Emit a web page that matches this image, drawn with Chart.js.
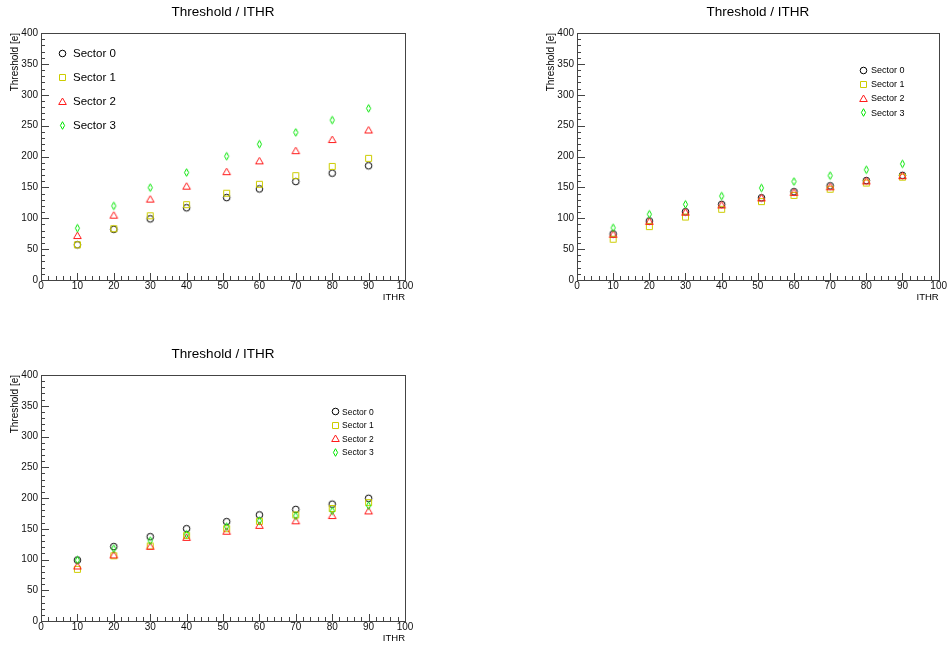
<!DOCTYPE html>
<html><head><meta charset="utf-8">
<script src="https://cdn.jsdelivr.net/npm/chart.js@4.4.0/dist/chart.umd.min.js"></script>
<style>
html,body{margin:0;padding:0;background:#fff;width:947px;height:645px;overflow:hidden}
canvas{position:absolute;display:block}
</style></head><body>
<canvas id="c1" width="473" height="322" style="left:0;top:0"></canvas>
<canvas id="c2" width="474" height="322" style="left:473px;top:0"></canvas>
<canvas id="c3" width="473" height="323" style="left:0;top:322px"></canvas>
<script>
// ---- data ----
const ITHR = [10, 20, 30, 40, 51, 60, 70, 80, 90];
const SECTORS = ['Sector 0', 'Sector 1', 'Sector 2', 'Sector 3'];
const X_TICKS = [0, 10, 20, 30, 40, 50, 60, 70, 80, 90, 100];
const Y_TICKS = [0, 50, 100, 150, 200, 250, 300, 350, 400];
const TITLE = 'Threshold / ITHR';
const X_TITLE = 'ITHR';
const Y_TITLE = 'Threshold [e]';

// panel 1 (top left)
const A_S0 = [57, 82, 99, 117, 133.5, 147.5, 159.5, 173, 185];
const A_S1 = [57, 83, 104, 122, 140.5, 155, 169, 184, 197];
const A_S2 = [72, 105, 131, 152, 175.5, 193, 209.5, 227.5, 243];
const A_S3 = [84, 120, 149.5, 174, 200.5, 220, 239, 259, 278];
// panel 2 (top right)
const B_S0 = [74.5, 95.5, 110.5, 122.5, 133, 143, 152.5, 161, 169.5];
const B_S1 = [66, 86.5, 102, 114.5, 127, 137, 147, 157, 166.5];
const B_S2 = [74, 95, 110, 121.5, 133, 142, 151, 160.5, 169];
const B_S3 = [84.5, 106.5, 122.5, 136, 149, 159.5, 169, 178.5, 188];
// panel 3 (bottom left)
const C_S0 = [99, 121, 137, 150, 161.5, 172.5, 181.5, 190, 199.5];
const C_S1 = [84, 106, 122, 139, 150, 162, 172.5, 183, 192.5];
const C_S2 = [89.5, 107.5, 121.5, 136, 146, 155.5, 163, 171.5, 179];
const C_S3 = [99, 117.5, 130.5, 141, 153.5, 163, 171, 179, 187.5];

// ---- styles ----
const FONT = '"Liberation Sans", Arial, Helvetica, sans-serif';
const COLORS = ['#000000', '#cccc00', '#ff1a1a', '#00e600'];

function marker(kind, color) {
  const c = document.createElement('canvas');
  c.width = 11; c.height = 11;
  const g = c.getContext('2d');
  g.strokeStyle = color; g.lineWidth = 1;
  g.beginPath();
  if (kind === 0) { g.arc(5.5, 5.5, 3.3, 0, Math.PI * 2); }
  else if (kind === 1) { g.rect(2.5, 2.5, 6, 6); }
  else if (kind === 2) { g.moveTo(5.5, 2.0); g.lineTo(9.3, 8.5); g.lineTo(1.7, 8.5); g.closePath(); }
  else { g.moveTo(5.5, 1.7); g.lineTo(7.6, 5.5); g.lineTo(5.5, 9.3); g.lineTo(3.4, 5.5); g.closePath(); }
  g.stroke();
  return c;
}
const MARKERS = COLORS.map((col, i) => marker(i, col));

function rootPlugin(cfg) {
  return {
    id: 'rootStyle',
    afterDraw(chart) {
      const ctx = chart.ctx, a = chart.chartArea;
      const xs = chart.scales.x, ys = chart.scales.y;
      ctx.save();
      ctx.strokeStyle = '#444'; ctx.lineWidth = 1;
      // frame
      ctx.strokeRect(Math.round(a.left) + 0.5, Math.round(a.top) + 0.5,
        Math.round(a.right - a.left), Math.round(a.bottom - a.top));
      // ticks (inward)
      ctx.beginPath();
      for (let v = ys.min; v <= ys.max + 1e-9; v += 10) {
        const y = Math.round(ys.getPixelForValue(v)) + 0.5;
        const len = (v % 50 === 0) ? 8 : 4;
        ctx.moveTo(a.left, y); ctx.lineTo(a.left + len, y);
      }
      for (let v = xs.min; v <= xs.max + 1e-9; v += 2) {
        const x = Math.round(xs.getPixelForValue(v)) + 0.5;
        const len = (v % 10 === 0) ? 7 : 4;
        ctx.moveTo(x, a.bottom); ctx.lineTo(x, a.bottom - len);
      }
      ctx.stroke();
      // title
      ctx.fillStyle = '#000';
      ctx.textBaseline = 'middle';
      ctx.textAlign = 'center';
      ctx.font = '13.5px ' + FONT;
      ctx.fillText(TITLE, (a.left + a.right) / 2, cfg.titleY);
      // x title
      ctx.font = '9.5px ' + FONT;
      ctx.textAlign = 'right';
      ctx.fillText(X_TITLE, a.right, cfg.xTitleY);
      // y title
      ctx.save();
      ctx.translate(cfg.yTitleX, a.top);
      ctx.rotate(-Math.PI / 2);
      ctx.font = '10px ' + FONT;
      ctx.textAlign = 'right';
      ctx.fillText(Y_TITLE, 0, 0);
      ctx.restore();
      // legend
      const L = cfg.legend;
      ctx.font = L.font + 'px ' + FONT;
      ctx.textAlign = 'left';
      chart.data.datasets.forEach((ds, i) => {
        const y = L.y0 + i * L.dy;
        const m = ds.pointStyle;
        ctx.drawImage(m, Math.round(L.mx - m.width / 2), Math.round(y - m.height / 2));
        ctx.fillText(ds.label, L.tx, y + 0.5);
      });
      ctx.restore();
    }
  };
}

function makeChart(id, frame, series, cfg) {
  const canvas = document.getElementById(id);
  const W = canvas.width, H = canvas.height;
  const tickFont = { family: FONT, size: 10 };
  return new Chart(canvas, {
    type: 'scatter',
    data: {
      datasets: series.map((vals, i) => ({
        label: SECTORS[i],
        data: ITHR.map((x, j) => ({ x: x, y: vals[j] })),
        pointStyle: MARKERS[i],
        pointRadius: 4, pointHoverRadius: 4,
        showLine: false,
        order: 3 - i
      }))
    },
    options: {
      responsive: false, animation: false, events: [],
      layout: { padding: { left: 0, top: frame.top, right: W - frame.right, bottom: 0 } },
      plugins: { legend: { display: false }, tooltip: { enabled: false }, title: { display: false } },
      scales: {
        x: {
          type: 'linear', min: 0, max: 100,
          afterBuildTicks: s => { s.ticks = X_TICKS.map(v => ({ value: v })); },
          afterFit: s => { s.height = H - frame.bottom; },
          grid: { display: false, drawTicks: false },
          border: { display: false },
          ticks: { padding: 0, font: tickFont, color: '#111', maxRotation: 0, autoSkip: false }
        },
        y: {
          type: 'linear', min: 0, max: 400,
          afterBuildTicks: s => { s.ticks = Y_TICKS.map(v => ({ value: v })); },
          afterFit: s => { s.width = frame.left; },
          grid: { display: false, drawTicks: false },
          border: { display: false },
          ticks: { padding: 3, font: tickFont, color: '#111', autoSkip: false }
        }
      }
    },
    plugins: [rootPlugin(cfg)]
  });
}

makeChart('c1', { left: 41, top: 33, right: 405, bottom: 280 }, [A_S0, A_S1, A_S2, A_S3],
  { titleY: 12.5, xTitleY: 297, yTitleX: 15,
    legend: { mx: 62, tx: 73, y0: 53, dy: 24.2, font: 11.5 } });
makeChart('c2', { left: 104, top: 33, right: 468, bottom: 280 }, [B_S0, B_S1, B_S2, B_S3],
  { titleY: 12.5, xTitleY: 297, yTitleX: 78,
    legend: { mx: 390, tx: 398, y0: 70.3, dy: 14.1, font: 9 } });
makeChart('c3', { left: 41, top: 53, right: 405, bottom: 299 }, [C_S0, C_S1, C_S2, C_S3],
  { titleY: 32, xTitleY: 316.5, yTitleX: 15,
    legend: { mx: 335, tx: 342, y0: 89.8, dy: 13.5, font: 8.5 } });
</script>
</body></html>
